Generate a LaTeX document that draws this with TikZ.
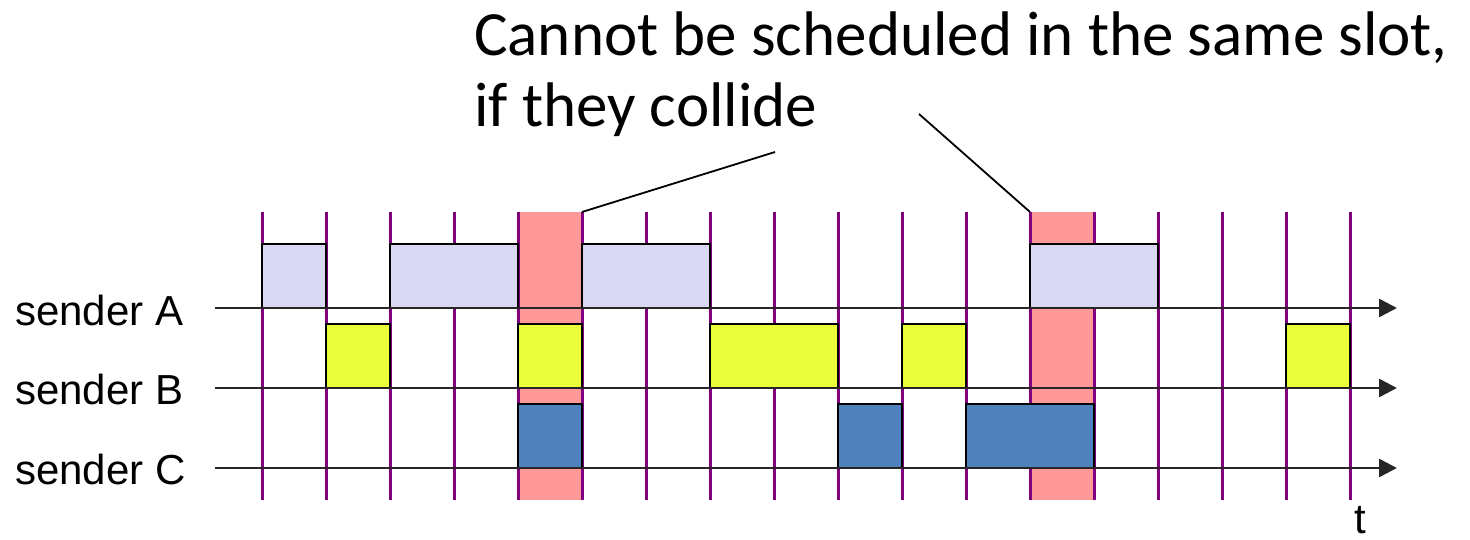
\documentclass[tikz,border=0pt]{standalone}
\usepackage{fontspec}
\setmainfont{Liberation Sans}
\newfontfamily\calib{Carlito}
\usetikzlibrary{arrows.meta}
\definecolor{slotred}{HTML}{FF9999}
\definecolor{tick}{HTML}{800080}
\definecolor{acol}{HTML}{D9D9F3}
\definecolor{bcol}{HTML}{EAFF3C}
\definecolor{ccol}{HTML}{4F81BD}
\tikzset{
  slotcol/.style={fill=slotred, draw=none, inner sep=0pt, outer sep=0pt, minimum width=64pt, minimum height=288pt, anchor=north west},
  tickline/.style={draw=tick, line width=3pt},
  pkt/.style={draw=black, line width=2.5pt, inner sep=0pt, outer sep=0pt, minimum height=64pt, anchor=south west},
  pa/.style={pkt, fill=acol},
  pb/.style={pkt, fill=bcol},
  pc/.style={pkt, fill=ccol},
  axisline/.style={draw=black!85, line width=2.6pt, -{Triangle[length=18pt,width=18pt]}},
  lbl/.style={font=\fontsize{42}{50}\selectfont, anchor=base west, inner sep=0pt},
  ttl/.style={font=\calib\fontsize{63}{75}\selectfont, anchor=base west, inner sep=0pt},
  callout/.style={draw=black, line width=1.8pt}
}
\begin{document}
\begin{tikzpicture}[x=1pt,y=-1pt]
\useasboundingbox (0,0) rectangle (1470,540);
% collision slots
\node[slotcol] (r1) at (518,212) {};
\node[slotcol] (r2) at (1030,212) {};
% slot boundaries
\foreach \x in {262,326,...,1350} {
  \draw[tickline] (\x,212) -- (\x,500);
}
% sender A packets
\node[pa, minimum width=64pt] (a1) at (262,308) {};
\node[pa, minimum width=128pt] (a2) at (390,308) {};
\node[pa, minimum width=128pt] (a3) at (582,308) {};
\node[pa, minimum width=128pt] (a4) at (1030,308) {};
% sender B packets
\node[pb, minimum width=64pt] (b1) at (326,388) {};
\node[pb, minimum width=64pt] (b2) at (518,388) {};
\node[pb, minimum width=128pt] (b3) at (710,388) {};
\node[pb, minimum width=64pt] (b4) at (902,388) {};
\node[pb, minimum width=64pt] (b5) at (1286,388) {};
% sender C packets
\node[pc, minimum width=64pt] (c1) at (518,468) {};
\node[pc, minimum width=64pt] (c2) at (838,468) {};
\node[pc, minimum width=128pt] (c3) at (966,468) {};
% axes
\coordinate (sA) at (215,308); \coordinate (eA) at (1397,308);
\coordinate (sB) at (215,388); \coordinate (eB) at (1397,388);
\coordinate (sC) at (215,468); \coordinate (eC) at (1397,468);
\draw[axisline] (sA) -- (eA);
\draw[axisline] (sB) -- (eB);
\draw[axisline] (sC) -- (eC);
% labels
\node[lbl] (lA) at (15,325) {sender A};
\node[lbl] (lB) at (15,404) {sender B};
\node[lbl] (lC) at (15,484) {sender C};
\node[lbl] (lt) at (1354,533) {t};
% title
\node[ttl] (t1) at (474,56) {Cannot be scheduled in the same slot,};
\node[ttl] (t2) at (474,127) {if they collide};
% callouts
\coordinate (k1) at (775,152);
\coordinate (k2) at (919,114);
\draw[callout] (r1.north east) -- (k1);
\draw[callout] (r2.north west) -- (k2);
\end{tikzpicture}
\end{document}
